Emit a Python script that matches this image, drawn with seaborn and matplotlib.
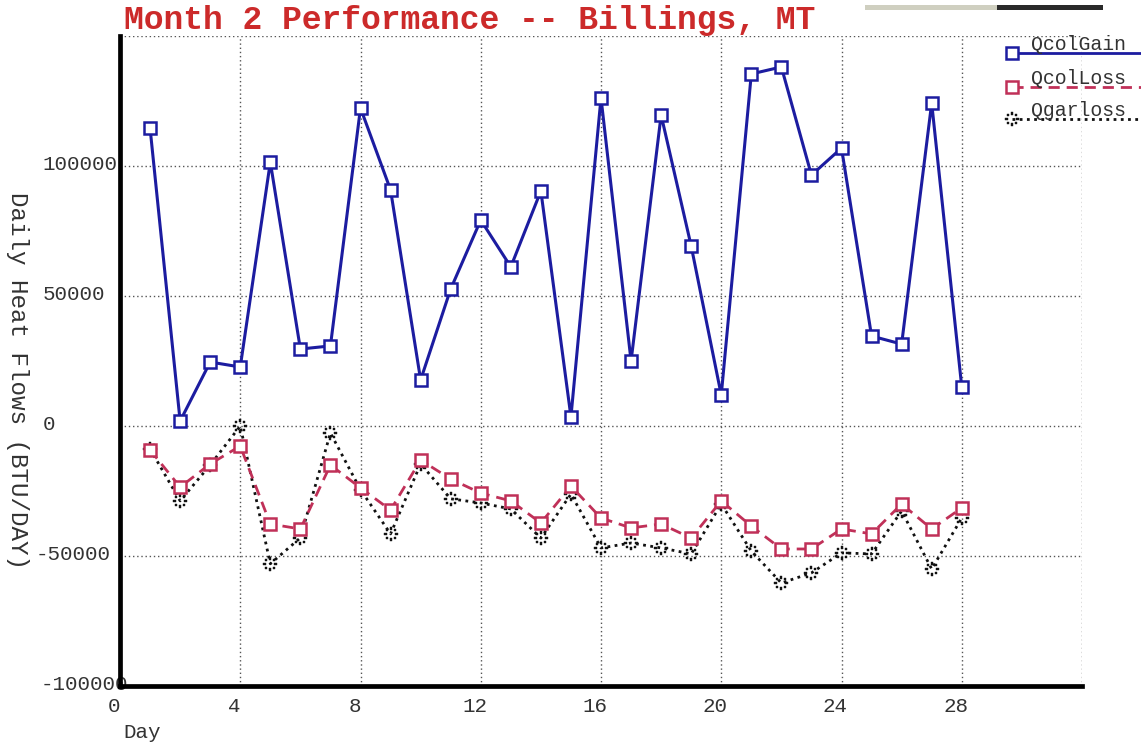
import numpy as np
import pandas as pd
import matplotlib
matplotlib.use("Agg")
import matplotlib.pyplot as plt
import matplotlib.transforms as mtransforms
import seaborn as sns
from matplotlib.path import Path
from matplotlib.lines import Line2D
from matplotlib.patches import Rectangle

# ---------------- data ----------------
days = list(range(1, 29))
qcol_gain = [114600, 1900, 24600, 22700, 101500, 29600, 30800, 122300, 90800, 17700,
             52700, 79200, 61200, 90400, 3500, 126200, 25000, 119600, 69200, 11900,
             135400, 138100, 96500, 106900, 34600, 31500, 124200, 15000]
qcol_loss = [-9200, -23500, -14600, -7700, -37700, -39600, -15000, -23800, -32300, -13100,
             -20400, -25800, -28800, -37300, -23100, -35400, -39200, -37700, -43100, -28800,
             -38500, -47300, -47300, -39600, -41500, -30000, -39600, -31500]
qgar_loss = [-8800, -28800, -15000, 0, -53000, -43000, -2700, -24500, -41500, -14600,
             -28000, -29600, -31900, -43100, -26200, -46900, -45000, -46900, -49200, -30000,
             -48100, -60400, -56500, -48800, -49200, -32700, -55000, -35400]
series_names = ["QcolGain", "QcolLoss", "Qgarloss"]
x_ticks = [0, 4, 8, 12, 16, 20, 24, 28, 32]
x_tick_labels = ["0", "4", "8", "12", "16", "20", "24", "28", ""]
y_ticks = [-100000, -50000, 0, 50000, 100000, 150000]
y_tick_labels = ["-100000", "-50000", "0", "50000", "100000", ""]
title_text = "Month 2 Performance -- Billings, MT"
x_label = "Day"
y_label = "Daily Heat Flows (BTU/DAY)"

# ---------------- style ----------------
sns.set_style("white")
plt.rcParams["font.family"] = ["Liberation Mono", "DejaVu Sans Mono"]

BLUE = "#1c1ca0"
RED = "#c03058"
BLACK = "#111111"
TXT = "#333333"

W, H = 1141, 745
fig = plt.figure(figsize=(W / 100, H / 100), dpi=100)
ax = fig.add_axes([120 / W, 1 - 686 / H, 962 / W, (686 - 36) / H])

# dotted-ring marker for Qgarloss
verts, codes = [], []
for k in range(8):
    a = 2 * np.pi * k / 8
    cx, cy = np.cos(a), np.sin(a)
    s = 0.25
    verts += [(cx - s, cy - s), (cx + s, cy - s), (cx + s, cy + s), (cx - s, cy + s), (cx - s, cy - s)]
    codes += [Path.MOVETO, Path.LINETO, Path.LINETO, Path.LINETO, Path.CLOSEPOLY]
ring_marker = Path(verts, codes)

df = pd.DataFrame({"Day": days, "QcolGain": qcol_gain, "QcolLoss": qcol_loss, "Qgarloss": qgar_loss})

sns.lineplot(data=df, x="Day", y="Qgarloss", ax=ax, color=BLACK, linewidth=2.0,
             marker=ring_marker, markersize=10, markerfacecolor=BLACK,
             markeredgecolor=BLACK, markeredgewidth=0.3, zorder=3)
sns.lineplot(data=df, x="Day", y="QcolLoss", ax=ax, color=RED, linewidth=2.0,
             marker="s", markersize=8, markerfacecolor="white",
             markeredgecolor=RED, markeredgewidth=1.8, zorder=4)
sns.lineplot(data=df, x="Day", y="QcolGain", ax=ax, color=BLUE, linewidth=2.2,
             marker="s", markersize=8, markerfacecolor="white",
             markeredgecolor=BLUE, markeredgewidth=1.8, zorder=5)

lines = ax.get_lines()
lines[0].set_linestyle((0, (1, 1.6)))
lines[1].set_linestyle((0, (4, 2.5)))
lines[2].set_linestyle("-")

ax.set_xlim(0, 32)
ax.set_ylim(-100000, 150000)
ax.set_xticks(x_ticks)
ax.set_xticklabels(x_tick_labels)
ax.set_yticks(y_ticks)
ax.set_yticklabels(y_tick_labels)
ax.set_xlabel("")
ax.set_ylabel("")

ax.grid(True, which="major", linestyle=(0, (1, 2)), color="#555555", linewidth=1.0)
ax.set_axisbelow(True)

for side in ["top", "right"]:
    ax.spines[side].set_visible(False)
for side in ["left", "bottom"]:
    ax.spines[side].set_linewidth(3.4)
    ax.spines[side].set_color("black")
    ax.spines[side].set_zorder(6)

ax.tick_params(axis="both", length=0, labelsize=15, labelcolor=TXT)
ax.tick_params(axis="x", pad=8)
ax.tick_params(axis="y", pad=56)  # label anchor ~42 px from left edge
for t in ax.get_yticklabels():
    t.set_horizontalalignment("left")

# fine offsets (pixels) for tick labels, matching the reference placement
y_label_dx = [-2, -7, 1, 0, 0, 0]
for t, dx in zip(ax.get_yticklabels(), y_label_dx):
    off = mtransforms.ScaledTranslation(dx / 100, 4 / 100, fig.dpi_scale_trans)
    t.set_transform(t.get_transform() + off)
offx = mtransforms.ScaledTranslation(-6 / 100, 0, fig.dpi_scale_trans)
for t in ax.get_xticklabels():
    t.set_transform(t.get_transform() + offx)

# title, axis labels
fig.text(124 / W, 1 - 20 / H, title_text, color="#cc2a2a", fontsize=23.8,
         fontweight="bold", ha="left", va="center")
fig.text(17 / W, 1 - 380 / H, y_label, rotation=270, fontsize=17.5,
         color=TXT, ha="center", va="center")
fig.text(123 / W, 1 - 733 / H, x_label, fontsize=15, color=TXT,
         ha="left", va="center")

# legend (drawn manually in figure pixels)
leg_specs = [
    (BLUE, "-", "s", 53, 45),
    (RED, (0, (4, 2.5)), "s", 87, 78),
    (BLACK, (0, (1, 1.6)), ring_marker, 119, 110),
]
for name, (col, ls, mk, ly, ty) in zip(series_names, leg_specs):
    ln = Line2D([1012 / W, 1141 / W], [1 - ly / H, 1 - ly / H], transform=fig.transFigure,
                color=col, linestyle=ls, linewidth=2.0, marker=mk, markevery=[0],
                markersize=8 if mk == "s" else 10,
                markerfacecolor="white" if mk == "s" else BLACK,
                markeredgecolor=col, markeredgewidth=1.8 if mk == "s" else 0.3)
    fig.add_artist(ln)
    fig.text(1031 / W, 1 - ty / H, name, fontsize=14.3, color=TXT,
             ha="left", va="center")

# window artefact bar at top right
fig.add_artist(Rectangle((865 / W, 1 - 10 / H), 132 / W, 5 / H, transform=fig.transFigure,
                         facecolor="#cfcfc0", edgecolor="none"))
fig.add_artist(Rectangle((997 / W, 1 - 10 / H), 106 / W, 5 / H, transform=fig.transFigure,
                         facecolor="#2a2a2a", edgecolor="none"))

fig.savefig("out.png", dpi=100)
